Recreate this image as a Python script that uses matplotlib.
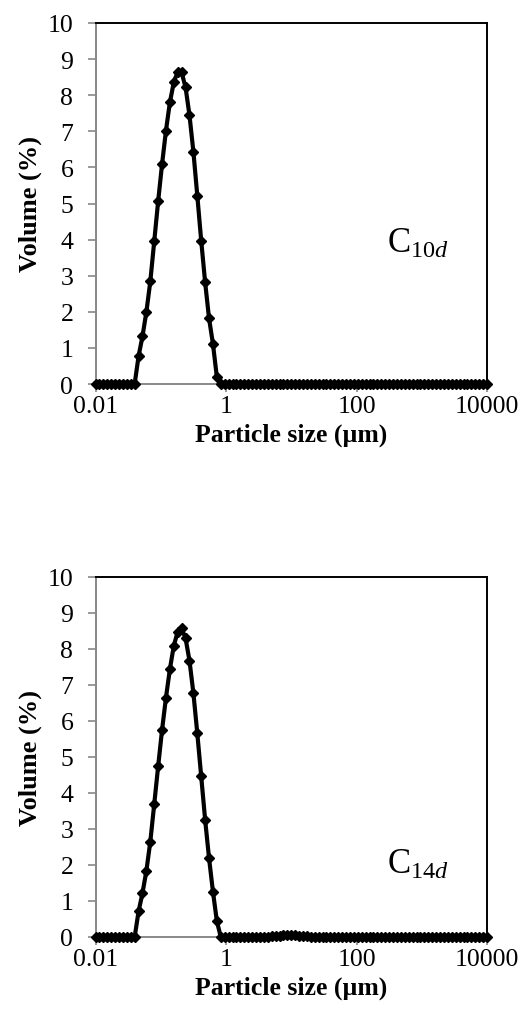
import numpy as np
import matplotlib
matplotlib.use("Agg")
import matplotlib.pyplot as plt
from matplotlib.ticker import FixedLocator, NullLocator, FixedFormatter

plt.rcParams['font.family'] = ['Liberation Serif', 'DejaVu Serif']
plt.rcParams['mathtext.fontset'] = 'custom'
plt.rcParams['mathtext.rm'] = 'Liberation Serif'
plt.rcParams['mathtext.it'] = 'Liberation Serif:italic'

# Size bins (µm): 101 log-spaced bins from 0.01 to 10000
n_bins = 101
sizes = 0.01 * 10 ** (np.arange(n_bins) * 0.06)

# Volume (%) for C10d: nonzero bins 11..31
c10_peak = [0.77, 1.32, 2.00, 2.84, 3.95, 5.06, 6.09, 7.02, 7.80, 8.36, 8.65,
            8.63, 8.22, 7.45, 6.44, 5.22, 3.97, 2.82, 1.82, 1.11, 0.19]
# Volume (%) for C14d: nonzero bins 11..31 and small bump at 44..55
c14_peak = [0.71, 1.22, 1.84, 2.65, 3.69, 4.74, 5.75, 6.65, 7.44, 8.09, 8.48,
            8.57, 8.30, 7.68, 6.78, 5.66, 4.46, 3.26, 2.19, 1.26, 0.44]
c14_bump = [0.01, 0.02, 0.03, 0.04, 0.05, 0.05, 0.05, 0.05, 0.04, 0.03, 0.02, 0.01]

vol_c10 = np.zeros(n_bins)
vol_c10[11:11 + len(c10_peak)] = c10_peak
vol_c14 = np.zeros(n_bins)
vol_c14[11:11 + len(c14_peak)] = c14_peak
vol_c14[44:44 + len(c14_bump)] = c14_bump

xtick_vals = [0.01, 1, 100, 10000]
xtick_labels = ['0.01', '1', '100', '10000']
ytick_vals = list(range(0, 11))

fig = plt.figure(figsize=(5.22, 10.2), dpi=100)
ax1 = fig.add_axes([95.5 / 522, 1 - 385 / 1020, 391.5 / 522, 361 / 1020])
ax2 = fig.add_axes([95.5 / 522, 1 - 938 / 1020, 391.5 / 522, 360 / 1020])

gray = '#888888'
for ax, vol, lab, ly in [(ax1, vol_c10, r'$\mathrm{C}_{\mathrm{10}\mathit{d}}$', 3.65),
                         (ax2, vol_c14, r'$\mathrm{C}_{\mathrm{14}\mathit{d}}$', 1.78)]:
    ax.plot(sizes, vol, color='black', lw=3.0, marker='D', ms=4.8,
            mfc='black', mec='black', clip_on=False, zorder=3)
    ax.set_xscale('log')
    ax.set_xlim(0.01, 10000)
    ax.set_ylim(0, 10)
    ax.xaxis.set_major_locator(FixedLocator(xtick_vals))
    ax.xaxis.set_major_formatter(FixedFormatter(xtick_labels))
    ax.xaxis.set_minor_locator(NullLocator())
    ax.set_yticks(ytick_vals)
    ax.tick_params(axis='both', direction='out', length=6, width=1.2,
                   color=gray, labelsize=18.5)
    ax.tick_params(axis='y', pad=10)
    ax.tick_params(axis='x', pad=2)
    for s in ['left', 'bottom']:
        ax.spines[s].set_color(gray)
        ax.spines[s].set_linewidth(1.4)
    for s in ['top', 'right']:
        ax.spines[s].set_color('black')
        ax.spines[s].set_linewidth(1.4)
    ax.set_xlabel('Particle size (µm)', fontsize=18.5, fontweight='bold', labelpad=4)
    ax.set_ylabel('Volume (%)', fontsize=19, fontweight='bold', labelpad=4)
    ax.text(10 ** (-2 + (387 - 95.5) / 65.25), ly, lab, fontsize=25,
            ha='left', va='baseline')

fig.savefig('out.png', dpi=100)
